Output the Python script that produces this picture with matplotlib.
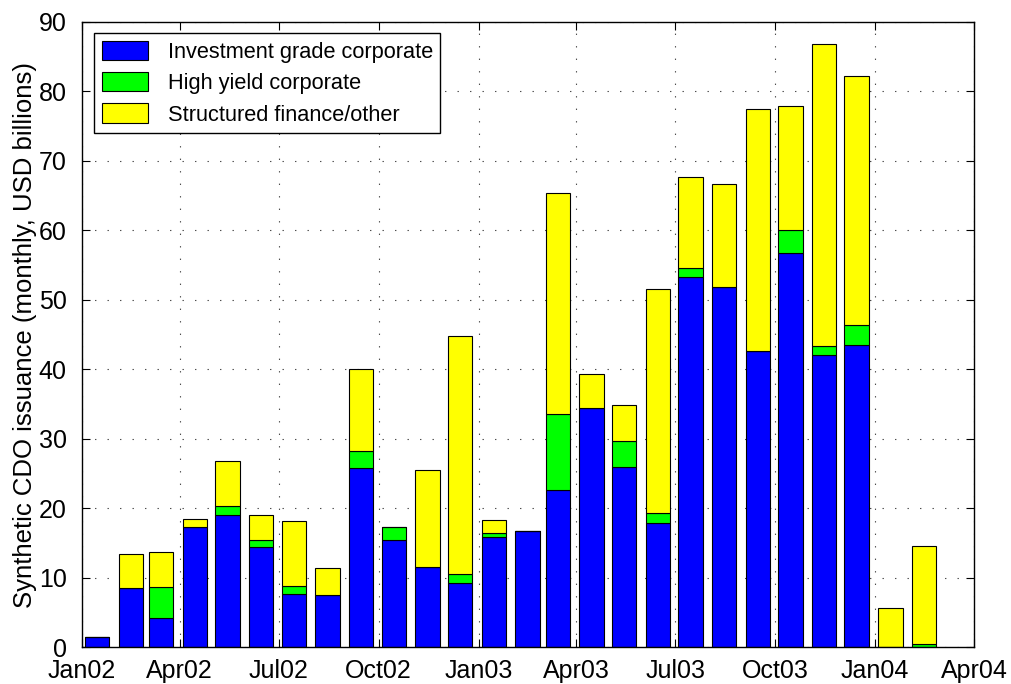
import pandas as pd
import matplotlib
matplotlib.use('Agg')
import matplotlib.pyplot as plt
import matplotlib.dates as mdates

plt.rcParams['font.family'] = ['Liberation Sans', 'DejaVu Sans']

## monthly issuance, USD billions
months = ['2002-01', '2002-02', '2002-03', '2002-04', '2002-05', '2002-06',
          '2002-07', '2002-08', '2002-09', '2002-10', '2002-11', '2002-12',
          '2003-01', '2003-02', '2003-03', '2003-04', '2003-05', '2003-06',
          '2003-07', '2003-08', '2003-09', '2003-10', '2003-11', '2003-12',
          '2004-01', '2004-02']
inv_grade = [1.55, 8.5, 4.3, 17.3, 19.0, 14.5, 7.7, 7.5, 25.8, 15.4, 11.6, 9.3,
             15.9, 16.8, 22.7, 34.4, 26.0, 17.9, 53.3, 51.8, 42.6, 56.7, 42.1, 43.5,
             0.0, 0.0]
high_yield = [0.0, 0.0, 4.4, 0.0, 1.4, 1.0, 1.1, 0.0, 2.5, 1.9, 0.0, 1.2,
              0.5, 0.0, 10.9, 0.1, 3.7, 1.4, 1.3, 0.0, 0.0, 3.3, 1.2, 2.9,
              0.0, 0.55]
struct_fin = [0.0, 5.0, 5.1, 1.2, 6.4, 3.6, 9.4, 3.9, 11.8, 0.0, 13.9, 34.3,
              2.0, 0.0, 31.7, 4.8, 5.2, 32.3, 13.1, 14.8, 34.85, 17.9, 43.5, 35.8,
              5.7, 14.0]
labels = ['Investment grade corporate', 'High yield corporate', 'Structured finance/other']

x = pd.to_datetime(months) + pd.Timedelta(days=14)
ig = pd.Series(inv_grade)
hy = pd.Series(high_yield)
sf = pd.Series(struct_fin)

fig = plt.figure(figsize=(10.11, 6.84), dpi=100)
ax = fig.add_axes([0.0811, 0.0534, 0.8823, 0.9149])

w = 22.4
ax.bar(x, ig, width=w, color=(0, 0, 1), edgecolor='black', linewidth=0.8, label=labels[0])
ax.bar(x, hy, width=w, bottom=ig, color=(0, 1, 0), edgecolor='black', linewidth=0.8, label=labels[1])
ax.bar(x, sf, width=w, bottom=ig + hy, color=(1, 1, 0), edgecolor='black', linewidth=0.8, label=labels[2])

ax.set_xlim(pd.Timestamp('2002-01-01'), pd.Timestamp('2004-04-01'))
ax.set_ylim(0, 90)
ax.set_yticks(range(0, 91, 10))
ax.xaxis.set_major_locator(mdates.MonthLocator(bymonth=[1, 4, 7, 10]))
ax.xaxis.set_major_formatter(mdates.DateFormatter('%b%y'))

ax.set_axisbelow(True)
ax.grid(True, color='0.3', linewidth=0.8, linestyle=(0, (1.25, 10)))
ax.tick_params(direction='in', length=5.5, width=0.8, top=True, right=True,
               labelsize=18)
ax.tick_params(axis='y', pad=11)
ax.tick_params(axis='x', pad=8)
for s in ax.spines.values():
    s.set_linewidth(1.0)

ax.set_ylabel('Synthetic CDO issuance (monthly, USD billions)', fontsize=18.5, labelpad=1)

leg = ax.legend(loc='upper left', bbox_to_anchor=(0.014, 0.982), fontsize=15.7,
                fancybox=False, framealpha=1, edgecolor='black',
                handlelength=2.1, handleheight=1.0, labelspacing=0.42,
                borderpad=0.35, handletextpad=0.9, borderaxespad=0)
leg.get_frame().set_linewidth(1.0)

fig.savefig('out.png', dpi=100)
